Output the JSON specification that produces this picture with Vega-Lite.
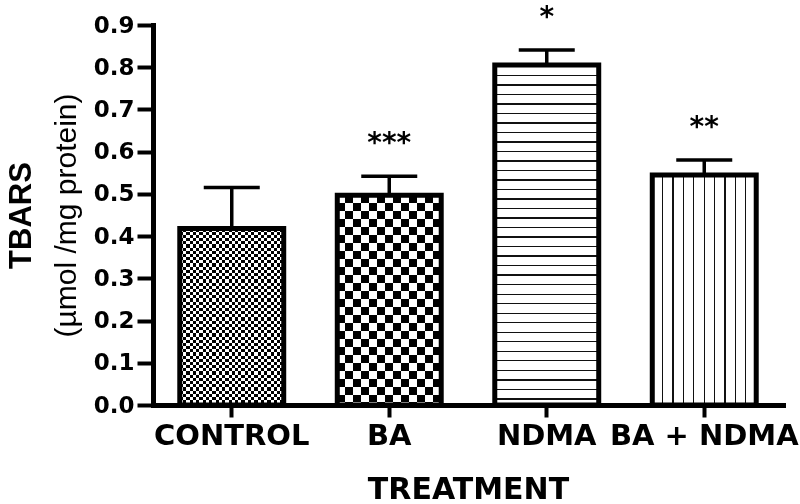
{
"$schema":"https://vega.github.io/schema/vega-lite/v6.json",
"autosize":{"type":"none"},
"padding":{"left":153,"top":25,"right":17,"bottom":99},
"width":630,"height":380,
"background":"white",
"config":{"view":{"stroke":null},"axis":{"grid":false}},
"data":{"values":[
{"treatment":"CONTROL","mean":0.418,"err":0.515,"sig":""},
{"treatment":"BA","mean":0.497,"err":0.542,"sig":"***"},
{"treatment":"NDMA","mean":0.805,"err":0.841,"sig":"*"},
{"treatment":"BA + NDMA","mean":0.545,"err":0.58,"sig":"**"}
]},
"encoding":{
"x":{"field":"treatment","type":"nominal","sort":null,
"scale":{"type":"band","domain":["CONTROL","BA","NDMA","BA + NDMA"],"paddingInner":0.34,"paddingOuter":0.17},
"axis":{"title":"TREATMENT","labelAngle":0,"labelFont":"DejaVu Sans","labelFontWeight":"bold","labelFontSize":29,"labelColor":"#000","labelPadding":4,"labelLimit":400,"labelOverlap":false,
"tickSize":12,"tickWidth":4,"tickColor":"#000","domainWidth":5,"domainColor":"#000","domainCap":"square",
"titleFont":"DejaVu Sans","titleFontWeight":"bold","titleFontSize":30,"titleColor":"#000","titlePadding":24}}
},
"resolve":{"axis":{"y":"independent"}},
"layer":[
{"transform":[{"filter":"datum.treatment === 'CONTROL'"}],
"mark":{"type":"bar","fill":{"gradient":"linear","x1":0,"y1":0,"x2":1,"y2":0,"stops":[{"offset":0,"color":"#000"},{"offset":0.03125,"color":"#000"},{"offset":0.03125,"color":"#fff"},{"offset":0.0625,"color":"#fff"},{"offset":0.0625,"color":"#000"},{"offset":0.09375,"color":"#000"},{"offset":0.09375,"color":"#fff"},{"offset":0.125,"color":"#fff"},{"offset":0.125,"color":"#000"},{"offset":0.15625,"color":"#000"},{"offset":0.15625,"color":"#fff"},{"offset":0.1875,"color":"#fff"},{"offset":0.1875,"color":"#000"},{"offset":0.21875,"color":"#000"},{"offset":0.21875,"color":"#fff"},{"offset":0.25,"color":"#fff"},{"offset":0.25,"color":"#000"},{"offset":0.28125,"color":"#000"},{"offset":0.28125,"color":"#fff"},{"offset":0.3125,"color":"#fff"},{"offset":0.3125,"color":"#000"},{"offset":0.34375,"color":"#000"},{"offset":0.34375,"color":"#fff"},{"offset":0.375,"color":"#fff"},{"offset":0.375,"color":"#000"},{"offset":0.40625,"color":"#000"},{"offset":0.40625,"color":"#fff"},{"offset":0.4375,"color":"#fff"},{"offset":0.4375,"color":"#000"},{"offset":0.46875,"color":"#000"},{"offset":0.46875,"color":"#fff"},{"offset":0.5,"color":"#fff"},{"offset":0.5,"color":"#000"},{"offset":0.53125,"color":"#000"},{"offset":0.53125,"color":"#fff"},{"offset":0.5625,"color":"#fff"},{"offset":0.5625,"color":"#000"},{"offset":0.59375,"color":"#000"},{"offset":0.59375,"color":"#fff"},{"offset":0.625,"color":"#fff"},{"offset":0.625,"color":"#000"},{"offset":0.65625,"color":"#000"},{"offset":0.65625,"color":"#fff"},{"offset":0.6875,"color":"#fff"},{"offset":0.6875,"color":"#000"},{"offset":0.71875,"color":"#000"},{"offset":0.71875,"color":"#fff"},{"offset":0.75,"color":"#fff"},{"offset":0.75,"color":"#000"},{"offset":0.78125,"color":"#000"},{"offset":0.78125,"color":"#fff"},{"offset":0.8125,"color":"#fff"},{"offset":0.8125,"color":"#000"},{"offset":0.84375,"color":"#000"},{"offset":0.84375,"color":"#fff"},{"offset":0.875,"color":"#fff"},{"offset":0.875,"color":"#000"},{"offset":0.90625,"color":"#000"},{"offset":0.90625,"color":"#fff"},{"offset":0.9375,"color":"#fff"},{"offset":0.9375,"color":"#000"},{"offset":0.96875,"color":"#000"},{"offset":0.96875,"color":"#fff"},{"offset":1,"color":"#fff"}]}},
"encoding":{"y":{"field":"mean","type":"quantitative",
"scale":{"domain":[0,0.9],"nice":false,"zero":true},
"axis":{"title":"(µmol /mg protein)","values":[0,0.1,0.2,0.3,0.4,0.5,0.6,0.7,0.8,0.9],"format":".1f",
"labelFont":"DejaVu Sans","labelFontWeight":"bold","labelFontSize":23,"labelColor":"#000","labelPadding":3,"labelOverlap":false,
"tickSize":16,"tickWidth":4,"tickColor":"#000","domainWidth":5,"domainColor":"#000","domainCap":"square",
"titleFont":"Liberation Sans","titleFontWeight":"normal","titleFontSize":30,"titleColor":"#000","titlePadding":12}}}},
{"transform":[{"filter":"datum.treatment === 'CONTROL'"}],
"mark":{"type":"bar","blend":"difference","fill":{"gradient":"linear","x1":0,"y1":0,"x2":0,"y2":1,"stops":[{"offset":0,"color":"#fff"},{"offset":0.018,"color":"#fff"},{"offset":0.018,"color":"#000"},{"offset":0.036,"color":"#000"},{"offset":0.036,"color":"#fff"},{"offset":0.054,"color":"#fff"},{"offset":0.054,"color":"#000"},{"offset":0.072,"color":"#000"},{"offset":0.072,"color":"#fff"},{"offset":0.09,"color":"#fff"},{"offset":0.09,"color":"#000"},{"offset":0.108,"color":"#000"},{"offset":0.108,"color":"#fff"},{"offset":0.126,"color":"#fff"},{"offset":0.126,"color":"#000"},{"offset":0.144,"color":"#000"},{"offset":0.144,"color":"#fff"},{"offset":0.162,"color":"#fff"},{"offset":0.162,"color":"#000"},{"offset":0.18,"color":"#000"},{"offset":0.18,"color":"#fff"},{"offset":0.198,"color":"#fff"},{"offset":0.198,"color":"#000"},{"offset":0.216,"color":"#000"},{"offset":0.216,"color":"#fff"},{"offset":0.234,"color":"#fff"},{"offset":0.234,"color":"#000"},{"offset":0.252,"color":"#000"},{"offset":0.252,"color":"#fff"},{"offset":0.27,"color":"#fff"},{"offset":0.27,"color":"#000"},{"offset":0.288,"color":"#000"},{"offset":0.288,"color":"#fff"},{"offset":0.306,"color":"#fff"},{"offset":0.306,"color":"#000"},{"offset":0.324,"color":"#000"},{"offset":0.324,"color":"#fff"},{"offset":0.342,"color":"#fff"},{"offset":0.342,"color":"#000"},{"offset":0.36,"color":"#000"},{"offset":0.36,"color":"#fff"},{"offset":0.378,"color":"#fff"},{"offset":0.378,"color":"#000"},{"offset":0.396,"color":"#000"},{"offset":0.396,"color":"#fff"},{"offset":0.414,"color":"#fff"},{"offset":0.414,"color":"#000"},{"offset":0.432,"color":"#000"},{"offset":0.432,"color":"#fff"},{"offset":0.45,"color":"#fff"},{"offset":0.45,"color":"#000"},{"offset":0.468,"color":"#000"},{"offset":0.468,"color":"#fff"},{"offset":0.486,"color":"#fff"},{"offset":0.486,"color":"#000"},{"offset":0.504,"color":"#000"},{"offset":0.504,"color":"#fff"},{"offset":0.522,"color":"#fff"},{"offset":0.522,"color":"#000"},{"offset":0.54,"color":"#000"},{"offset":0.54,"color":"#fff"},{"offset":0.558,"color":"#fff"},{"offset":0.558,"color":"#000"},{"offset":0.576,"color":"#000"},{"offset":0.576,"color":"#fff"},{"offset":0.594,"color":"#fff"},{"offset":0.594,"color":"#000"},{"offset":0.612,"color":"#000"},{"offset":0.612,"color":"#fff"},{"offset":0.63,"color":"#fff"},{"offset":0.63,"color":"#000"},{"offset":0.648,"color":"#000"},{"offset":0.648,"color":"#fff"},{"offset":0.666,"color":"#fff"},{"offset":0.666,"color":"#000"},{"offset":0.684,"color":"#000"},{"offset":0.684,"color":"#fff"},{"offset":0.702,"color":"#fff"},{"offset":0.702,"color":"#000"},{"offset":0.72,"color":"#000"},{"offset":0.72,"color":"#fff"},{"offset":0.738,"color":"#fff"},{"offset":0.738,"color":"#000"},{"offset":0.756,"color":"#000"},{"offset":0.756,"color":"#fff"},{"offset":0.774,"color":"#fff"},{"offset":0.774,"color":"#000"},{"offset":0.792,"color":"#000"},{"offset":0.792,"color":"#fff"},{"offset":0.81,"color":"#fff"},{"offset":0.81,"color":"#000"},{"offset":0.828,"color":"#000"},{"offset":0.828,"color":"#fff"},{"offset":0.846,"color":"#fff"},{"offset":0.846,"color":"#000"},{"offset":0.864,"color":"#000"},{"offset":0.864,"color":"#fff"},{"offset":0.882,"color":"#fff"},{"offset":0.882,"color":"#000"},{"offset":0.9,"color":"#000"},{"offset":0.9,"color":"#fff"},{"offset":0.918,"color":"#fff"},{"offset":0.918,"color":"#000"},{"offset":0.936,"color":"#000"},{"offset":0.936,"color":"#fff"},{"offset":0.954,"color":"#fff"},{"offset":0.954,"color":"#000"},{"offset":0.972,"color":"#000"},{"offset":0.972,"color":"#fff"},{"offset":0.99,"color":"#fff"},{"offset":0.99,"color":"#000"},{"offset":1,"color":"#000"}]}},
"encoding":{"y":{"field":"mean","type":"quantitative","axis":null}}},
{"transform":[{"filter":"datum.treatment === 'BA'"}],
"mark":{"type":"bar","fill":{"gradient":"linear","x1":0,"y1":0,"x2":1,"y2":0,"stops":[{"offset":0,"color":"#000"},{"offset":0.077,"color":"#000"},{"offset":0.077,"color":"#fff"},{"offset":0.154,"color":"#fff"},{"offset":0.154,"color":"#000"},{"offset":0.231,"color":"#000"},{"offset":0.231,"color":"#fff"},{"offset":0.308,"color":"#fff"},{"offset":0.308,"color":"#000"},{"offset":0.385,"color":"#000"},{"offset":0.385,"color":"#fff"},{"offset":0.462,"color":"#fff"},{"offset":0.462,"color":"#000"},{"offset":0.539,"color":"#000"},{"offset":0.539,"color":"#fff"},{"offset":0.616,"color":"#fff"},{"offset":0.616,"color":"#000"},{"offset":0.693,"color":"#000"},{"offset":0.693,"color":"#fff"},{"offset":0.77,"color":"#fff"},{"offset":0.77,"color":"#000"},{"offset":0.847,"color":"#000"},{"offset":0.847,"color":"#fff"},{"offset":0.924,"color":"#fff"},{"offset":0.924,"color":"#000"},{"offset":1,"color":"#000"}]}},
"encoding":{"y":{"field":"mean","type":"quantitative","axis":null}}},
{"transform":[{"filter":"datum.treatment === 'BA'"}],
"mark":{"type":"bar","blend":"difference","fill":{"gradient":"linear","x1":0,"y1":0,"x2":0,"y2":1,"stops":[{"offset":0,"color":"#fff"},{"offset":0.038,"color":"#fff"},{"offset":0.038,"color":"#000"},{"offset":0.076,"color":"#000"},{"offset":0.076,"color":"#fff"},{"offset":0.114,"color":"#fff"},{"offset":0.114,"color":"#000"},{"offset":0.152,"color":"#000"},{"offset":0.152,"color":"#fff"},{"offset":0.19,"color":"#fff"},{"offset":0.19,"color":"#000"},{"offset":0.228,"color":"#000"},{"offset":0.228,"color":"#fff"},{"offset":0.266,"color":"#fff"},{"offset":0.266,"color":"#000"},{"offset":0.304,"color":"#000"},{"offset":0.304,"color":"#fff"},{"offset":0.342,"color":"#fff"},{"offset":0.342,"color":"#000"},{"offset":0.38,"color":"#000"},{"offset":0.38,"color":"#fff"},{"offset":0.418,"color":"#fff"},{"offset":0.418,"color":"#000"},{"offset":0.456,"color":"#000"},{"offset":0.456,"color":"#fff"},{"offset":0.494,"color":"#fff"},{"offset":0.494,"color":"#000"},{"offset":0.532,"color":"#000"},{"offset":0.532,"color":"#fff"},{"offset":0.57,"color":"#fff"},{"offset":0.57,"color":"#000"},{"offset":0.608,"color":"#000"},{"offset":0.608,"color":"#fff"},{"offset":0.646,"color":"#fff"},{"offset":0.646,"color":"#000"},{"offset":0.684,"color":"#000"},{"offset":0.684,"color":"#fff"},{"offset":0.722,"color":"#fff"},{"offset":0.722,"color":"#000"},{"offset":0.76,"color":"#000"},{"offset":0.76,"color":"#fff"},{"offset":0.798,"color":"#fff"},{"offset":0.798,"color":"#000"},{"offset":0.836,"color":"#000"},{"offset":0.836,"color":"#fff"},{"offset":0.874,"color":"#fff"},{"offset":0.874,"color":"#000"},{"offset":0.912,"color":"#000"},{"offset":0.912,"color":"#fff"},{"offset":0.95,"color":"#fff"},{"offset":0.95,"color":"#000"},{"offset":0.988,"color":"#000"},{"offset":0.988,"color":"#fff"},{"offset":1,"color":"#fff"}]}},
"encoding":{"y":{"field":"mean","type":"quantitative","axis":null}}},
{"transform":[{"filter":"datum.treatment === 'NDMA'"}],
"mark":{"type":"bar","fill":{"gradient":"linear","x1":0,"y1":0,"x2":0,"y2":1,"stops":[{"offset":0,"color":"#fff"},{"offset":0.028,"color":"#fff"},{"offset":0.028,"color":"#111"},{"offset":0.032,"color":"#111"},{"offset":0.032,"color":"#fff"},{"offset":0.056,"color":"#fff"},{"offset":0.056,"color":"#111"},{"offset":0.06,"color":"#111"},{"offset":0.06,"color":"#fff"},{"offset":0.084,"color":"#fff"},{"offset":0.084,"color":"#111"},{"offset":0.088,"color":"#111"},{"offset":0.088,"color":"#fff"},{"offset":0.112,"color":"#fff"},{"offset":0.112,"color":"#111"},{"offset":0.116,"color":"#111"},{"offset":0.116,"color":"#fff"},{"offset":0.14,"color":"#fff"},{"offset":0.14,"color":"#111"},{"offset":0.144,"color":"#111"},{"offset":0.144,"color":"#fff"},{"offset":0.168,"color":"#fff"},{"offset":0.168,"color":"#111"},{"offset":0.172,"color":"#111"},{"offset":0.172,"color":"#fff"},{"offset":0.196,"color":"#fff"},{"offset":0.196,"color":"#111"},{"offset":0.2,"color":"#111"},{"offset":0.2,"color":"#fff"},{"offset":0.224,"color":"#fff"},{"offset":0.224,"color":"#111"},{"offset":0.228,"color":"#111"},{"offset":0.228,"color":"#fff"},{"offset":0.252,"color":"#fff"},{"offset":0.252,"color":"#111"},{"offset":0.256,"color":"#111"},{"offset":0.256,"color":"#fff"},{"offset":0.28,"color":"#fff"},{"offset":0.28,"color":"#111"},{"offset":0.284,"color":"#111"},{"offset":0.284,"color":"#fff"},{"offset":0.308,"color":"#fff"},{"offset":0.308,"color":"#111"},{"offset":0.312,"color":"#111"},{"offset":0.312,"color":"#fff"},{"offset":0.336,"color":"#fff"},{"offset":0.336,"color":"#111"},{"offset":0.34,"color":"#111"},{"offset":0.34,"color":"#fff"},{"offset":0.364,"color":"#fff"},{"offset":0.364,"color":"#111"},{"offset":0.368,"color":"#111"},{"offset":0.368,"color":"#fff"},{"offset":0.392,"color":"#fff"},{"offset":0.392,"color":"#111"},{"offset":0.396,"color":"#111"},{"offset":0.396,"color":"#fff"},{"offset":0.42,"color":"#fff"},{"offset":0.42,"color":"#111"},{"offset":0.424,"color":"#111"},{"offset":0.424,"color":"#fff"},{"offset":0.448,"color":"#fff"},{"offset":0.448,"color":"#111"},{"offset":0.452,"color":"#111"},{"offset":0.452,"color":"#fff"},{"offset":0.476,"color":"#fff"},{"offset":0.476,"color":"#111"},{"offset":0.48,"color":"#111"},{"offset":0.48,"color":"#fff"},{"offset":0.504,"color":"#fff"},{"offset":0.504,"color":"#111"},{"offset":0.508,"color":"#111"},{"offset":0.508,"color":"#fff"},{"offset":0.532,"color":"#fff"},{"offset":0.532,"color":"#111"},{"offset":0.536,"color":"#111"},{"offset":0.536,"color":"#fff"},{"offset":0.56,"color":"#fff"},{"offset":0.56,"color":"#111"},{"offset":0.564,"color":"#111"},{"offset":0.564,"color":"#fff"},{"offset":0.588,"color":"#fff"},{"offset":0.588,"color":"#111"},{"offset":0.592,"color":"#111"},{"offset":0.592,"color":"#fff"},{"offset":0.616,"color":"#fff"},{"offset":0.616,"color":"#111"},{"offset":0.62,"color":"#111"},{"offset":0.62,"color":"#fff"},{"offset":0.644,"color":"#fff"},{"offset":0.644,"color":"#111"},{"offset":0.648,"color":"#111"},{"offset":0.648,"color":"#fff"},{"offset":0.672,"color":"#fff"},{"offset":0.672,"color":"#111"},{"offset":0.676,"color":"#111"},{"offset":0.676,"color":"#fff"},{"offset":0.7,"color":"#fff"},{"offset":0.7,"color":"#111"},{"offset":0.704,"color":"#111"},{"offset":0.704,"color":"#fff"},{"offset":0.728,"color":"#fff"},{"offset":0.728,"color":"#111"},{"offset":0.732,"color":"#111"},{"offset":0.732,"color":"#fff"},{"offset":0.756,"color":"#fff"},{"offset":0.756,"color":"#111"},{"offset":0.76,"color":"#111"},{"offset":0.76,"color":"#fff"},{"offset":0.784,"color":"#fff"},{"offset":0.784,"color":"#111"},{"offset":0.788,"color":"#111"},{"offset":0.788,"color":"#fff"},{"offset":0.812,"color":"#fff"},{"offset":0.812,"color":"#111"},{"offset":0.816,"color":"#111"},{"offset":0.816,"color":"#fff"},{"offset":0.84,"color":"#fff"},{"offset":0.84,"color":"#111"},{"offset":0.844,"color":"#111"},{"offset":0.844,"color":"#fff"},{"offset":0.868,"color":"#fff"},{"offset":0.868,"color":"#111"},{"offset":0.872,"color":"#111"},{"offset":0.872,"color":"#fff"},{"offset":0.896,"color":"#fff"},{"offset":0.896,"color":"#111"},{"offset":0.9,"color":"#111"},{"offset":0.9,"color":"#fff"},{"offset":0.924,"color":"#fff"},{"offset":0.924,"color":"#111"},{"offset":0.928,"color":"#111"},{"offset":0.928,"color":"#fff"},{"offset":0.952,"color":"#fff"},{"offset":0.952,"color":"#111"},{"offset":0.956,"color":"#111"},{"offset":0.956,"color":"#fff"},{"offset":0.98,"color":"#fff"},{"offset":0.98,"color":"#111"},{"offset":0.984,"color":"#111"},{"offset":0.984,"color":"#fff"},{"offset":1,"color":"#fff"}]}},
"encoding":{"y":{"field":"mean","type":"quantitative","axis":null}}},
{"transform":[{"filter":"datum.treatment === 'BA + NDMA'"}],
"mark":{"type":"bar","fill":{"gradient":"linear","x1":0,"y1":0,"x2":1,"y2":0,"stops":[{"offset":0,"color":"#fff"},{"offset":0.094,"color":"#fff"},{"offset":0.094,"color":"#111"},{"offset":0.106,"color":"#111"},{"offset":0.106,"color":"#fff"},{"offset":0.194,"color":"#fff"},{"offset":0.194,"color":"#111"},{"offset":0.206,"color":"#111"},{"offset":0.206,"color":"#fff"},{"offset":0.294,"color":"#fff"},{"offset":0.294,"color":"#111"},{"offset":0.306,"color":"#111"},{"offset":0.306,"color":"#fff"},{"offset":0.394,"color":"#fff"},{"offset":0.394,"color":"#111"},{"offset":0.406,"color":"#111"},{"offset":0.406,"color":"#fff"},{"offset":0.494,"color":"#fff"},{"offset":0.494,"color":"#111"},{"offset":0.506,"color":"#111"},{"offset":0.506,"color":"#fff"},{"offset":0.594,"color":"#fff"},{"offset":0.594,"color":"#111"},{"offset":0.606,"color":"#111"},{"offset":0.606,"color":"#fff"},{"offset":0.694,"color":"#fff"},{"offset":0.694,"color":"#111"},{"offset":0.706,"color":"#111"},{"offset":0.706,"color":"#fff"},{"offset":0.794,"color":"#fff"},{"offset":0.794,"color":"#111"},{"offset":0.806,"color":"#111"},{"offset":0.806,"color":"#fff"},{"offset":0.894,"color":"#fff"},{"offset":0.894,"color":"#111"},{"offset":0.906,"color":"#111"},{"offset":0.906,"color":"#fff"},{"offset":1,"color":"#fff"}]}},
"encoding":{"y":{"field":"mean","type":"quantitative","axis":null}}},
{"mark":{"type":"bar","fillOpacity":0,"stroke":"#000","strokeWidth":5},
"encoding":{"y":{"field":"mean","type":"quantitative",
"axis":{"orient":"left","title":"TBARS","labels":false,"ticks":false,"domain":false,"minExtent":0,"titleFont":"Liberation Sans","titleFontWeight":"bold","titleFontSize":31,"titleColor":"#000","titlePadding":116}}}},
{"mark":{"type":"rule","stroke":"#000","strokeWidth":3.5},
"encoding":{"y":{"field":"mean","type":"quantitative","axis":null},"y2":{"field":"err"}}},
{"mark":{"type":"tick","color":"#000","size":56,"thickness":3.5,"opacity":1},
"encoding":{"y":{"field":"err","type":"quantitative","axis":null}}},
{"mark":{"type":"text","font":"DejaVu Sans","fontSize":28,"fontWeight":"bold","dy":-24,"baseline":"alphabetic","align":"center","color":"#000"},
"encoding":{"y":{"field":"err","type":"quantitative","axis":null},"text":{"field":"sig"}}}
]
}
